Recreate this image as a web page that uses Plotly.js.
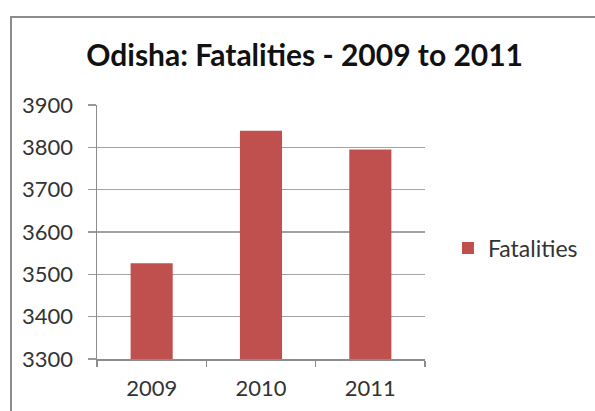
<!DOCTYPE html>
<html>
<head>
<meta charset="utf-8">
<script src="https://cdn.plot.ly/plotly-3.0.1.min.js"></script>
<style>
  html, body { margin: 0; padding: 0; background: #fff; overflow: hidden; }
  #wrap { position: relative; width: 595px; height: 411px; overflow: hidden; }
  #chart { width: 595px; height: 411px; }
  #hline { position: absolute; left: 10px; top: 16px; width: 585px; height: 2px; background: #8c8c8c; pointer-events: none; }
  #vline { position: absolute; left: 10px; top: 16px; width: 2px; height: 395px; background: #8c8c8c; pointer-events: none; }
</style>
</head>
<body>
<div id="wrap">
  <div id="chart"></div>
  <div id="hline"></div>
  <div id="vline"></div>
</div>
<script>
const years = ["2009", "2010", "2011"];
const fatalities = [3526, 3839, 3795];
const seriesName = "Fatalities";
const yTicks = [3300, 3400, 3500, 3600, 3700, 3800, 3900];

const font = "Lato, 'Open Sans', 'Liberation Sans', sans-serif";

const trace = {
  type: "bar",
  x: years,
  y: fatalities,
  name: seriesName,
  marker: { color: "#C0504D" },
  showlegend: true
};

const layout = {
  width: 595,
  height: 411,
  margin: { l: 97, r: 159, t: 105, b: 52 },
  paper_bgcolor: "#ffffff",
  plot_bgcolor: "#ffffff",
  bargap: 0.615,
  title: {
    text: "<b>Odisha: Fatalities - 2009 to 2011</b>",
    font: { family: font, size: 30, color: "#111" },
    x: 0.512, xanchor: "center",
    y: 0.866, yanchor: "middle", yref: "container"
  },
  xaxis: {
    type: "category",
    tickson: "boundaries",
    ticks: "outside",
    ticklen: 6,
    tickcolor: "#8c8c8c",
    tickwidth: 1.5,
    showline: true,
    linecolor: "#8c8c8c",
    linewidth: 1.5,
    showgrid: false,
    ticklabelstandoff: 9,
    tickfont: { family: font, size: 22, color: "#333" }
  },
  yaxis: {
    range: [3300, 3900],
    tickvals: yTicks,
    ticks: "outside",
    ticklen: 8,
    tickcolor: "#9a9a9a",
    tickwidth: 1.5,
    showline: true,
    linecolor: "#8c8c8c",
    linewidth: 1.5,
    showgrid: true,
    gridcolor: "#a3a3a3",
    gridwidth: 1.5,
    zeroline: false,
    ticklabelstandoff: 10,
    tickfont: { family: font, size: 22, color: "#333" }
  },
  legend: {
    x: 1.07, xanchor: "left",
    y: 0.437, yanchor: "middle",
    font: { family: font, size: 23, color: "#333" },
    itemwidth: 30
  },
  showlegend: true
};

Plotly.newPlot("chart", [trace], layout, { displayModeBar: false, staticPlot: true });
</script>
</body>
</html>
